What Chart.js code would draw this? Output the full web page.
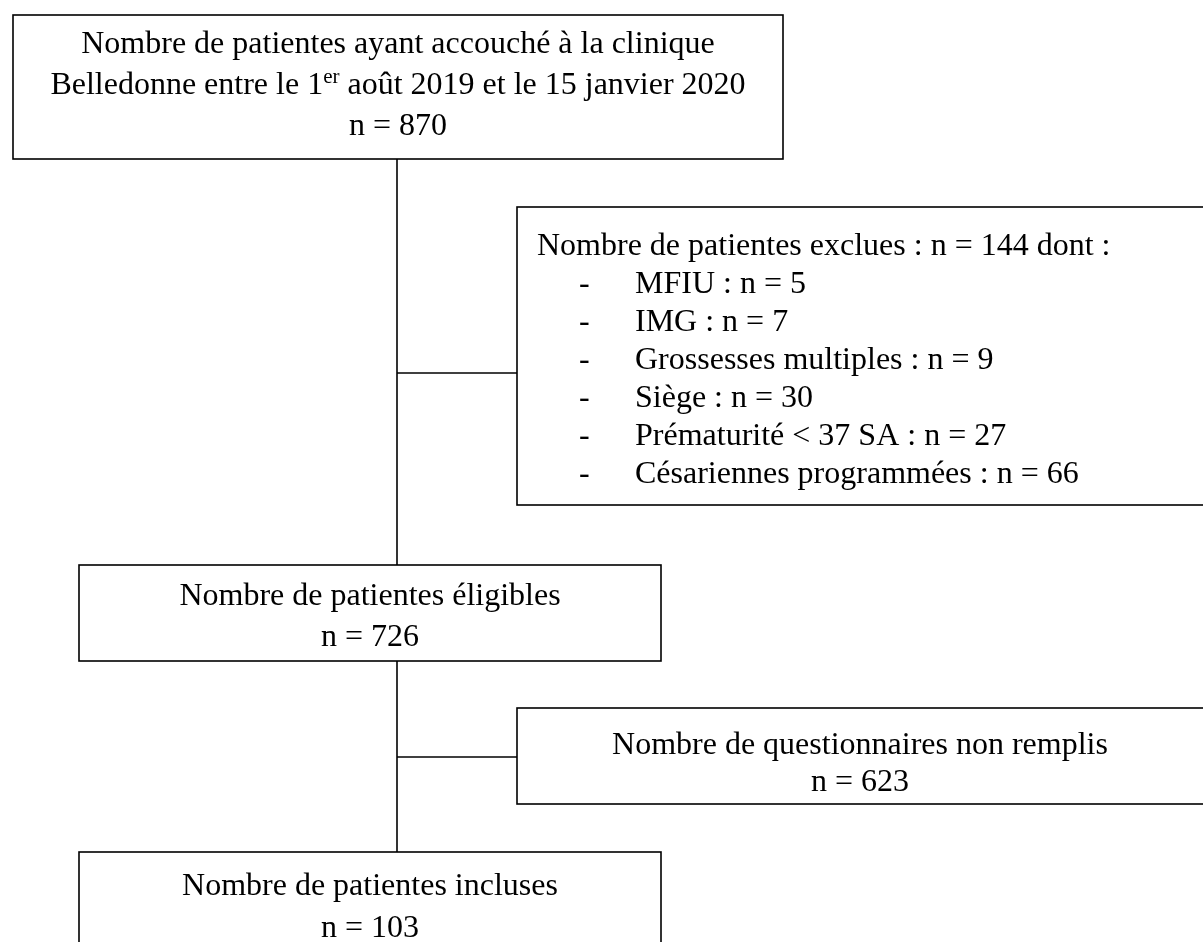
<!DOCTYPE html>
<html><head><meta charset="utf-8">
<script src="https://cdn.jsdelivr.net/npm/chart.js@4.4.1/dist/chart.umd.min.js"></script>
<style>html,body{margin:0;padding:0;background:#fff;overflow:hidden}canvas{display:block}</style>
</head><body>
<canvas id="c" width="1203" height="942"></canvas>
<script>
// ---- data ----
const stageTitles = [
  ["Nombre de patientes ayant accouché à la clinique", "Belledonne entre le 1^{er} août 2019 et le 15 janvier 2020"],
  ["Nombre de patientes éligibles"],
  ["Nombre de patientes incluses"]
];
const stageCounts = [870, 726, 103];
const excludedTitle = "Nombre de patientes exclues";
const excludedTotal = 144;
const exclusionReasons = ["MFIU", "IMG", "Grossesses multiples", "Siège", "Prématurité < 37 SA", "Césariennes programmées"];
const exclusionCounts = [5, 7, 9, 30, 27, 66];
const nonFilledTitle = "Nombre de questionnaires non remplis";
const nonFilledCount = 623;

// ---- layout (positions in scale units; baselines) ----
const FONT = "'Liberation Serif', 'Times New Roman', serif";
const FS = 32;
const layout = {
  start:    {x: 13,  y: 15,  w: 770, h: 144, cx: 398, baselines: [53, 94, 135]},
  excluded: {x: 517, y: 207, w: 700, h: 298, tx: 537, dashX: 579, itemX: 635, firstBase: 255, pitch: 38},
  eligible: {x: 79,  y: 565, w: 582, h: 96,  cx: 370, baselines: [605, 646]},
  nonFilled:{x: 517, y: 708, w: 700, h: 96,  cx: 860, baselines: [754, 791]},
  included: {x: 79,  y: 852, w: 582, h: 200, cx: 370, baselines: [895, 937]},
  spineX: 397,
  branch1Y: 373,
  branch2Y: 757
};

function parseSegs(str) {
  const segs = [];
  const re = /\^\{([^}]*)\}/g;
  let last = 0, m;
  while ((m = re.exec(str)) !== null) {
    if (m.index > last) segs.push({t: str.slice(last, m.index), sup: false});
    segs.push({t: m[1], sup: true});
    last = re.lastIndex;
  }
  if (last < str.length) segs.push({t: str.slice(last), sup: false});
  return segs;
}

function drawRich(ctx, str, x, y, align) {
  const segs = parseSegs(str);
  const fN = FS + "px " + FONT, fS = Math.round(FS * 0.65) + "px " + FONT;
  let w = 0;
  segs.forEach(s => { ctx.font = s.sup ? fS : fN; s.w = ctx.measureText(s.t).width; w += s.w; });
  let cx = align === 'center' ? x - w / 2 : x;
  ctx.textAlign = 'left';
  ctx.textBaseline = 'alphabetic';
  segs.forEach(s => {
    ctx.font = s.sup ? fS : fN;
    ctx.fillText(s.t, cx, s.sup ? y - FS * 0.33 : y);
    cx += s.w;
  });
}

const flowPlugin = {
  id: 'flow',
  afterDraw(chart) {
    const ctx = chart.ctx;
    const xs = chart.scales.x, ys = chart.scales.y;
    const X = v => xs.getPixelForValue(v);
    const Y = v => ys.getPixelForValue(v);
    ctx.save();
    ctx.fillStyle = '#fff';
    ctx.fillRect(0, 0, chart.width, chart.height);
    ctx.strokeStyle = '#000';
    ctx.fillStyle = '#000';
    ctx.lineWidth = 1.6;

    const line = (x1, y1, x2, y2) => { ctx.beginPath(); ctx.moveTo(X(x1), Y(y1)); ctx.lineTo(X(x2), Y(y2)); ctx.stroke(); };
    const box = b => ctx.strokeRect(X(b.x), Y(b.y), X(b.x + b.w) - X(b.x), Y(b.y + b.h) - Y(b.y));

    const L = layout;
    // connectors
    line(L.spineX, L.start.y + L.start.h, L.spineX, L.eligible.y);
    line(L.spineX, L.eligible.y + L.eligible.h, L.spineX, L.included.y);
    line(L.spineX, L.branch1Y, L.excluded.x, L.branch1Y);
    line(L.spineX, L.branch2Y, L.nonFilled.x, L.branch2Y);

    // boxes
    [L.start, L.excluded, L.eligible, L.nonFilled, L.included].forEach(box);

    // stage texts
    [L.start, L.eligible, L.included].forEach((b, i) => {
      const lines = stageTitles[i].concat(["n = " + stageCounts[i]]);
      lines.forEach((t, k) => drawRich(ctx, t, X(b.cx), Y(b.baselines[k]), 'center'));
    });

    // exclusions
    const e = L.excluded;
    drawRich(ctx, excludedTitle + " : n = " + excludedTotal + " dont :", X(e.tx), Y(e.firstBase), 'left');
    exclusionReasons.forEach((r, i) => {
      const yy = Y(e.firstBase + (i + 1) * e.pitch);
      drawRich(ctx, "-", X(e.dashX), yy, 'left');
      drawRich(ctx, r + " : n = " + exclusionCounts[i], X(e.itemX), yy, 'left');
    });

    // non-filled
    const nf = L.nonFilled;
    drawRich(ctx, nonFilledTitle, X(nf.cx), Y(nf.baselines[0]), 'center');
    drawRich(ctx, "n = " + nonFilledCount, X(nf.cx), Y(nf.baselines[1]), 'center');
    ctx.restore();
  }
};

new Chart(document.getElementById('c').getContext('2d'), {
  type: 'scatter',
  data: { datasets: [{ data: [], pointRadius: 0 }] },
  options: {
    responsive: false,
    animation: false,
    devicePixelRatio: 1,
    layout: { padding: 0 },
    plugins: { legend: { display: false }, tooltip: { enabled: false } },
    scales: {
      x: { type: 'linear', min: 0, max: 1203, display: false },
      y: { type: 'linear', min: 0, max: 942, reverse: true, display: false }
    }
  },
  plugins: [flowPlugin]
});
</script>
</body></html>
